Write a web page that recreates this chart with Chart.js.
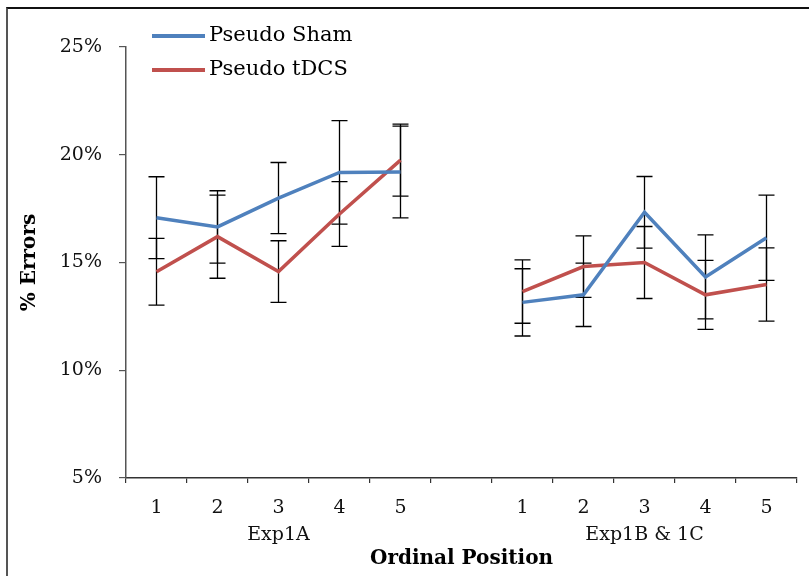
<!DOCTYPE html>
<html>
<head>
<meta charset="utf-8">
<script src="https://cdn.jsdelivr.net/npm/chart.js@4/dist/chart.umd.min.js"></script>
<style>
  html, body { margin: 0; padding: 0; background: #fff; }
  #wrap { position: relative; width: 809px; height: 576px; overflow: hidden; }
  #frame { position: absolute; left: 6px; top: 7px; width: 900px; height: 700px;
           border-left: 2px solid #555; border-top: 2px solid #111; pointer-events: none; }
  #legend { position: absolute; left: 152px; top: 20px; font-family: "DejaVu Serif", serif;
            font-size: 21px; color: #000; }
  #legend .item { position: relative; height: 34px; white-space: nowrap; }
  #legend .swatch { position: absolute; left: 0; top: 14px; width: 53px; height: 3.5px; }
  #legend .txt { position: absolute; left: 57px; top: 0; line-height: 28px; }
</style>
</head>
<body>
<div id="wrap">
  <canvas id="chart" width="809" height="576"></canvas>
  <div id="frame"></div>
  <div id="legend"></div>
</div>
<script>
// ordinal positions, with an empty slot between the two experiment groups
const positions = ['1', '2', '3', '4', '5', '', '1', '2', '3', '4', '5'];
const groups = ['Exp1A', 'Exp1B & 1C'];
const groupSlots = [2, 8];   // slot under which each group name sits

// % errors and error bar half-lengths
const shamMean = [17.08, 16.65, 17.99, 19.18, 19.2, null, 13.15, 13.5, 17.33, 14.33, 16.15];
const shamErr  = [1.9, 1.68, 1.65, 2.4, 2.13, null, 1.56, 1.47, 1.66, 1.95, 1.98];
const tdcsMean = [14.57, 16.2, 14.58, 17.25, 19.75, null, 13.65, 14.81, 15.0, 13.5, 13.98];
const tdcsErr  = [1.55, 1.93, 1.43, 1.5, 1.67, null, 1.47, 1.43, 1.67, 1.6, 1.7];

const yTicks = [5, 10, 15, 20, 25];

const labels = positions.map((p, i) => {
  const g = groupSlots.indexOf(i);
  return g >= 0 ? [p, groups[g]] : p;
});

// vertical error bars with caps, drawn under the lines
const errorBars = {
  id: 'errorBars',
  beforeDatasetsDraw(chart) {
    const { ctx, scales: { x, y } } = chart;
    ctx.save();
    ctx.strokeStyle = '#000';
    ctx.lineWidth = 1.3;
    chart.data.datasets.forEach(ds => {
      ds.data.forEach((v, i) => {
        if (v == null) return;
        const px = x.getPixelForValue(i);
        const hi = y.getPixelForValue(v + ds.err[i]);
        const lo = y.getPixelForValue(v - ds.err[i]);
        ctx.beginPath();
        ctx.moveTo(px, hi); ctx.lineTo(px, lo);
        ctx.moveTo(px - 8, hi); ctx.lineTo(px + 8, hi);
        ctx.moveTo(px - 8, lo); ctx.lineTo(px + 8, lo);
        ctx.stroke();
      });
    });
    ctx.restore();
  }
};

const tickFont = { family: 'DejaVu Serif', size: 19, lineHeight: 1.42 };

const chart = new Chart(document.getElementById('chart'), {
  type: 'line',
  data: {
    labels: labels,
    datasets: [{
      label: 'Pseudo Sham',
      data: shamMean,
      err: shamErr,
      borderColor: '#4f81bd',
      backgroundColor: '#4f81bd',
      borderWidth: 3.5,
      pointRadius: 0,
      tension: 0
    }, {
      label: 'Pseudo tDCS',
      data: tdcsMean,
      err: tdcsErr,
      borderColor: '#c0504d',
      backgroundColor: '#c0504d',
      borderWidth: 3.5,
      pointRadius: 0,
      tension: 0
    }]
  },
  options: {
    responsive: false,
    animation: false,
    layout: { padding: { top: 47, right: 12, left: 0, bottom: 0 } },
    plugins: { legend: { display: false }, tooltip: { enabled: false } },
    scales: {
      x: {
        offset: true,
        grid: { offset: true, drawOnChartArea: false, tickLength: 5, color: '#333', lineWidth: 1.2 },
        border: { color: '#333', width: 1.5 },
        ticks: { color: '#111', font: tickFont, padding: 12, maxRotation: 0, autoSkip: false },
        title: {
          display: true, text: 'Ordinal Position', color: '#000',
          font: { family: 'DejaVu Serif', size: 20, weight: 'bold', lineHeight: 1.2 },
          padding: { top: 0, bottom: 5 }
        },
        afterFit(scale) { scale.height = 98; scale.paddingLeft = 0; scale.paddingRight = 0; }
      },
      y: {
        min: 5, max: 25,
        afterBuildTicks(scale) { scale.ticks = yTicks.map(v => ({ value: v })); },
        grid: { drawOnChartArea: false, tickLength: 7, color: '#555', lineWidth: 1.2 },
        border: { color: '#555', width: 1.5 },
        ticks: { color: '#111', font: { family: 'DejaVu Serif', size: 19 }, padding: 17,
                 callback: v => v + '%' },
        title: {
          display: true, text: '% Errors', color: '#000',
          font: { family: 'DejaVu Serif', size: 20, weight: 'bold', lineHeight: 1.2 },
          padding: { top: 18, bottom: 0 }
        },
        afterFit(scale) { scale.width = 126; scale.paddingTop = 0; scale.paddingBottom = 0; }
      }
    }
  },
  plugins: [errorBars]
});

// legend stacked in the top left, built from the datasets
const legend = document.getElementById('legend');
chart.data.datasets.forEach(ds => {
  legend.innerHTML += `<div class="item"><div class="swatch" style="background:${ds.borderColor}"></div><span class="txt">${ds.label}</span></div>`;
});
</script>
</body>
</html>
